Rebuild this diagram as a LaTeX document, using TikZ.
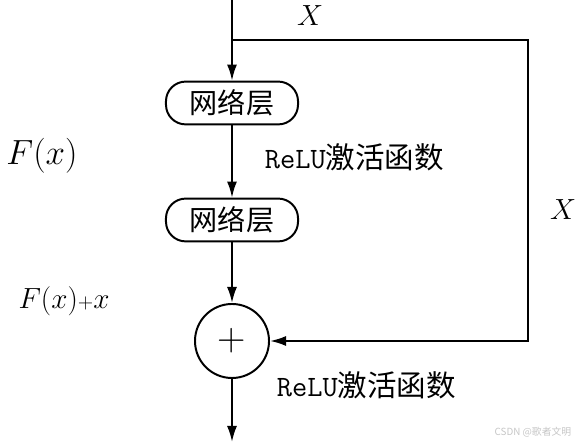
\documentclass[tikz,border=0pt]{standalone}
\usepackage{fontspec}
\newfontfamily\cjk{Noto Sans CJK SC}
\usetikzlibrary{arrows.meta,positioning}

\begin{document}
\begin{tikzpicture}[x=0.025cm, y=-0.025cm,
    line width=1.4pt,
    arrowLine/.style={-{Latex[length=4mm, width=2.5mm]}},
    layerBox/.style={draw, rounded corners=14pt, minimum width=3.3cm, minimum height=1.07cm, inner sep=0pt, font=\fontsize{20}{24}\selectfont\cjk},
    sumCircle/.style={draw, circle, minimum size=1.85cm, inner sep=0pt, font=\fontsize{28}{32}\selectfont},
    mathLabel/.style={font=\fontsize{22}{26}\selectfont},
    bigMath/.style={font=\fontsize{25}{29}\selectfont},
    reluLabel/.style={anchor=west, inner sep=0pt, font=\fontsize{21}{25}\selectfont}
]
    \useasboundingbox (0,0) rectangle (580,444);

    % Main path
    \coordinate (input) at (232,0);
    \coordinate (split) at (232,40);
    \coordinate (turnA) at (528,40);
    \coordinate (turnB) at (528,341);
    \coordinate (output) at (232,442);

    \node[layerBox] (layer1) at (232,103) {网络层};
    \node[layerBox] (layer2) at (232,220) {网络层};
    \node[sumCircle] (sum) at (232,341) {+};

    \draw[arrowLine] (input) -- (layer1);
    \draw[arrowLine] (layer1) -- (layer2);
    \draw[arrowLine] (layer2) -- (sum);
    \draw[arrowLine] (sum) -- (output);

    % Shortcut
    \draw[arrowLine] (split) -- (turnA) -- (turnB) -- (sum.east);

    % Labels
    \node[mathLabel] (xTop) at (310,16) {$X$};
    \node[mathLabel] (xRight) at (563,210) {$X$};
    \node[bigMath] (fx) at (42,156) {$F(x)$};
    \node[mathLabel] (fxx) at (64,301) {$F(x){\scriptstyle +}x$};
    \node[reluLabel] (relu1) at (264,157) {\ttfamily ReLU\cjk 激活函数};
    \node[reluLabel] (relu2) at (276,385) {\ttfamily ReLU\cjk 激活函数};

    % Watermark
    \node[anchor=east, text=gray!45, font=\fontsize{7}{8}\selectfont\cjk] (mark) at (577,432) {CSDN @歌者文明};
\end{tikzpicture}
\end{document}
